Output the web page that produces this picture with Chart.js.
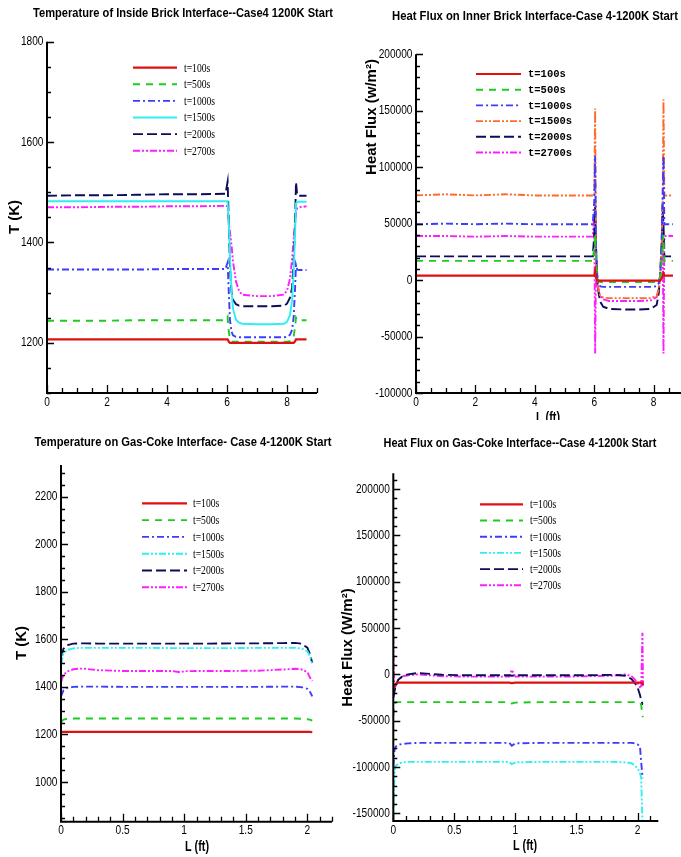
<!DOCTYPE html>
<html>
<head>
<meta charset="utf-8">
<script src="https://cdn.jsdelivr.net/npm/chart.js@4.4.1/dist/chart.umd.min.js"></script>
<style>
  body { margin: 0; background: #fff; width: 681px; height: 857px; position: relative; overflow: hidden; }
  canvas { position: absolute; }
</style>
</head>
<body>
<canvas id="c1" width="340" height="420" style="left:0;top:0"></canvas>
<canvas id="c2" width="341" height="420" style="left:340px;top:0"></canvas>
<canvas id="c3" width="340" height="437" style="left:0;top:420px"></canvas>
<canvas id="c4" width="341" height="437" style="left:340px;top:420px"></canvas>
<script>
const seriesLabels = ["t=100s", "t=500s", "t=1000s", "t=1500s", "t=2000s", "t=2700s"];

// Temperature of inside brick interface (K) vs L (ft)
const brickTempX = [0, 1, 2, 3, 4, 5, 5.95, 6.02, 6.06, 6.1, 6.15, 6.2, 6.3, 6.4, 6.5, 7.0, 7.5, 7.9, 8.0, 8.1, 8.17, 8.22, 8.27, 8.3, 8.34, 8.4, 8.65];
const brickTemp100 = [1207, 1207, 1207, 1207, 1207, 1207, 1207, 1207, 1202, 1200, 1200, 1200, 1200, 1200, 1200, 1200, 1200, 1200, 1200, 1200, 1200, 1200, 1203, 1207, 1207, 1207, 1207];
const brickTemp500 = [1244, 1244, 1244, 1245, 1245, 1245, 1245, 1252, 1222, 1208, 1203, 1202, 1202, 1202, 1202, 1202, 1202, 1202, 1202, 1203, 1205, 1212, 1232, 1250, 1245, 1245, 1245];
const brickTemp1000 = [1346, 1346, 1346, 1346, 1347, 1347, 1347, 1360, 1300, 1245, 1222, 1215, 1212, 1211, 1211, 1211, 1211, 1211, 1212, 1216, 1226, 1250, 1310, 1355, 1346, 1345, 1345];
const brickTemp1500 = [1482, 1482, 1482, 1482, 1482, 1482, 1482, 1482, 1440, 1370, 1305, 1268, 1246, 1240, 1238, 1237, 1237, 1238, 1242, 1255, 1285, 1340, 1420, 1478, 1481, 1481, 1481];
const brickTemp2000 = [1493, 1494, 1494, 1495, 1496, 1496, 1497, 1521, 1440, 1350, 1302, 1286, 1277, 1274, 1273, 1273, 1273, 1274, 1278, 1290, 1310, 1360, 1440, 1520, 1494, 1493, 1493];
const brickTemp2700 = [1470, 1470, 1471, 1471, 1472, 1472, 1473, 1472, 1440, 1420, 1395, 1362, 1322, 1304, 1296, 1293, 1293, 1296, 1304, 1328, 1368, 1405, 1440, 1462, 1468, 1470, 1472];

// Heat flux on inner brick interface (w/m2)
const brickFluxX = [0, 1, 2, 3, 4, 5, 5.95, 6.0, 6.03, 6.06, 6.1, 6.15, 6.2, 6.3, 6.5, 7.0, 7.5, 7.9, 8.1, 8.17, 8.22, 8.27, 8.3, 8.33, 8.36, 8.4, 8.65];
const brickFlux100 = [4000, 4000, 4000, 4000, 4000, 4000, 4000, 4000, 8000, 2000, 0, -500, -500, -500, -500, -500, -500, -500, -500, -500, -300, 1000, 4000, 6000, 4000, 4000, 4000];
const brickFlux500 = [17000, 17000, 17000, 17000, 17000, 17000, 17000, 30000, 40000, 15000, 2000, -1000, -1800, -1800, -1800, -1800, -1800, -1800, -1800, -1000, 2000, 15000, 30000, 40000, 17000, 17000, 17000];
const brickFlux1000 = [49500, 50000, 49500, 50000, 49500, 49500, 49500, 70000, 110000, 30000, 5000, -3000, -5500, -6000, -6000, -6000, -6000, -6000, -5500, -3000, 5000, 30000, 70000, 110000, 49500, 49500, 49500];
const brickFlux1500 = [75000, 76000, 75000, 76000, 75000, 75000, 75000, 75000, 152000, 20000, 0, -10000, -14000, -15500, -16000, -16000, -16000, -16000, -14000, -8000, 5000, 30000, 60000, 160000, 75000, 75000, 75000];
const brickFlux2000 = [21000, 21000, 21000, 21000, 21000, 21000, 21000, 40000, 65000, 30000, 0, -12000, -19000, -23500, -25500, -26000, -26000, -25500, -22000, -12000, 5000, 35000, 67000, 50000, 21000, 21000, 21000];
const brickFlux2700 = [39000, 39000, 38500, 39000, 38500, 38500, 38500, 60000, -65000, 10000, -2000, -10000, -14000, -17000, -18500, -18500, -18500, -18000, -15000, -8000, 3000, 20000, 55000, -65000, 39000, 39000, 39000];

// Temperature on gas-coke interface (K)
const cokeTempX = [0, 0.02, 0.05, 0.1, 0.15, 0.2, 0.3, 0.5, 0.7, 0.9, 0.97, 1.0, 1.2, 1.4, 1.6, 1.8, 1.9, 1.95, 2.0, 2.02, 2.04];
const cokeTemp100 = [1211, 1211, 1211, 1211, 1211, 1211, 1211, 1211, 1211, 1211, 1211, 1211, 1211, 1211, 1211, 1211, 1211, 1211, 1211, 1211, 1209];
const cokeTemp500 = [1252, 1262, 1266, 1267, 1267, 1267, 1267, 1267, 1267, 1267, 1267, 1267, 1267, 1267, 1267, 1267, 1267, 1266, 1264, 1262, 1258];
const cokeTemp1000 = [1360, 1385, 1396, 1400, 1401, 1401, 1401, 1400, 1400, 1400, 1400, 1400, 1400, 1400, 1400, 1401, 1401, 1399, 1392, 1380, 1360];
const cokeTemp1500 = [1495, 1540, 1555, 1562, 1564, 1564, 1564, 1564, 1564, 1563, 1563, 1563, 1563, 1563, 1564, 1564, 1564, 1562, 1550, 1530, 1495];
const cokeTemp2000 = [1525, 1560, 1575, 1582, 1583, 1583, 1582, 1582, 1582, 1582, 1582, 1582, 1582, 1583, 1583, 1584, 1585, 1582, 1565, 1540, 1500];
const cokeTemp2700 = [1420, 1450, 1465, 1474, 1477, 1476, 1470, 1467, 1467, 1467, 1461, 1466, 1467, 1467, 1468, 1473, 1476, 1474, 1462, 1440, 1425];

// Heat flux on gas-coke interface (W/m2)
const cokeFluxX = [0, 0.005, 0.01, 0.02, 0.04, 0.08, 0.12, 0.2, 0.4, 0.6, 0.8, 0.95, 0.97, 1.0, 1.2, 1.4, 1.6, 1.8, 1.9, 1.95, 1.98, 2.0, 2.02, 2.03, 2.04, 2.045];
const cokeFlux100 = [-15000, -14000, -12000, -10000, -9000, -9000, -9000, -9000, -9000, -9000, -9000, -9000, -9500, -9000, -9000, -9000, -9000, -9000, -9000, -9000, -9000, -9000, -9000, -9000, -9500, -12000];
const cokeFlux500 = [-45000, -35000, -31000, -30000, -30000, -30000, -30000, -30000, -30000, -30000, -30000, -30000, -31500, -30500, -30000, -30000, -30000, -30000, -30000, -30000, -30000, -30200, -30500, -33000, -45000, -46000];
const cokeFlux1000 = [-100000, -90000, -82000, -78000, -76000, -75000, -74500, -74000, -74000, -74000, -74000, -74000, -77000, -74500, -74000, -74000, -74000, -74000, -74000, -74000, -74500, -75500, -78000, -95000, -110000, -112000];
const cokeFlux1500 = [-158000, -130000, -105000, -99000, -96500, -95000, -94500, -94500, -94500, -94500, -94500, -94500, -97000, -95000, -94500, -94500, -94500, -94500, -95000, -96000, -98500, -101500, -106000, -112000, -158000, -158000];
const cokeFlux2000 = [-25000, -22000, -18000, -12000, -6000, -1500, 0, 1500, -500, -1000, -1000, -1000, -1500, -1000, -1000, -1000, -1000, -500, -1500, -5000, -9700, -14000, -22300, -28000, -32000, -32000];
const cokeFlux2700 = [40000, -5000, -16000, -12000, -6000, -2000, -1000, 0, -2000, -2500, -2500, -2500, 5000, -2500, -2500, -2500, -2000, -1500, 0, -2000, -6000, -9000, -14000, -15000, 45000, -12000];

// axis tick labels
const brickTempYTicks = [1200, 1400, 1600, 1800];
const brickFluxYTicks = [-100000, -50000, 0, 50000, 100000, 150000, 200000];
const cokeTempYTicks = [1000, 1200, 1400, 1600, 1800, 2000, 2200];
const cokeFluxYTicks = [-150000, -100000, -50000, 0, 50000, 100000, 150000, 200000];
const brickXTicks = [0, 2, 4, 6, 8];
const cokeXTicks = [0, 0.5, 1, 1.5, 2];

const RED = "#e01010", GREEN = "#1ecc1e", BLUE = "#3c3cff", CYAN = "#2ef0f0",
      NAVY = "#0c0c58", MAGENTA = "#ff1eff", ORANGE = "#ff6a28";
const SOLID = [], DASH = [7, 6], LONGDASH = [10, 4], DASHDOT = [7, 3, 2, 3], DASHDOTDOT = [7, 2, 2, 2, 2, 2];

function squeezeText(ctx, text, x, y, s, align) {
  ctx.save();
  ctx.translate(x, y);
  ctx.scale(s, 1);
  ctx.textAlign = align;
  ctx.fillText(text, 0, 0);
  ctx.restore();
}

function fmt(v) {
  return String(Math.round(v * 1000) / 1000);
}

const panelPlugin = {
  id: "panel",
  afterDraw(chart, args, o) {
    const ctx = chart.ctx;
    const xs = chart.scales.x, ys = chart.scales.y;
    const a = chart.chartArea;
    ctx.save();
    ctx.fillStyle = "#000";
    ctx.strokeStyle = "#000";

    // minor + major ticks, pointing into the plot
    ctx.lineWidth = 1.3;
    ctx.beginPath();
    let start = Math.ceil((ys.min - 1e-9) / o.yMinor) * o.yMinor;
    for (let i = 0; ; i++) {
      const v = start + i * o.yMinor;
      if (v > ys.max + 1e-9) break;
      const p = Math.round(ys.getPixelForValue(v)) + 0.5;
      const major = o.yTicks.some(t => Math.abs(t - v) < 1e-6);
      ctx.moveTo(a.left, p);
      ctx.lineTo(a.left + (major ? 7 : 4), p);
    }
    start = Math.ceil((xs.min - 1e-9) / o.xMinor) * o.xMinor;
    for (let i = 0; ; i++) {
      const v = start + i * o.xMinor;
      if (v > xs.max + 1e-9) break;
      const p = Math.round(xs.getPixelForValue(v)) + 0.5;
      const major = o.xTicks.some(t => Math.abs(t - v) < 1e-6);
      ctx.moveTo(p, a.bottom);
      ctx.lineTo(p, a.bottom - (major ? 8 : 5));
    }
    ctx.stroke();

    // axis lines
    ctx.lineWidth = 2;
    ctx.beginPath();
    ctx.moveTo(a.left, a.top);
    ctx.lineTo(a.left, a.bottom);
    ctx.lineTo(a.right, a.bottom);
    ctx.stroke();

    // tick labels
    ctx.font = "13px 'Liberation Sans', Arial, sans-serif";
    ctx.textBaseline = "middle";
    o.yTicks.forEach(v => {
      squeezeText(ctx, fmt(v), a.left - 3.5, ys.getPixelForValue(v), 0.78, "right");
    });
    o.xTicks.forEach(v => {
      squeezeText(ctx, fmt(v), xs.getPixelForValue(v), a.bottom + 9, 0.78, "center");
    });

    // title
    ctx.font = "bold 13px 'Liberation Sans', Arial, sans-serif";
    ctx.textAlign = "center";
    ctx.fillText(o.title[0], o.title[1], o.title[2], o.title[3]);

    // axis titles
    ctx.font = "bold 15px 'Liberation Sans', Arial, sans-serif";
    if (o.xTitle) {
      ctx.fillText(o.xTitle[0], o.xTitle[1], o.xTitle[2], o.xTitle[3]);
    }
    ctx.save();
    ctx.translate(o.yTitle[1], o.yTitle[2]);
    ctx.rotate(-Math.PI / 2);
    ctx.fillText(o.yTitle[0], 0, 0, o.yTitle[3]);
    ctx.restore();

    // legend
    const L = o.legend;
    chart.data.datasets.forEach((ds, i) => {
      const y = L.y0 + i * L.dy;
      ctx.save();
      ctx.strokeStyle = ds.borderColor;
      ctx.lineWidth = ds.borderWidth;
      ctx.setLineDash(ds.borderDash);
      ctx.beginPath();
      ctx.moveTo(L.x0, y);
      ctx.lineTo(L.x1, y);
      ctx.stroke();
      ctx.restore();
      ctx.font = L.font;
      ctx.fillStyle = "#000";
      ctx.textBaseline = "middle";
      squeezeText(ctx, ds.label, L.tx, y + 0.5, L.sq, "left");
    });
    ctx.restore();
  }
};

function makeDatasets(xs, ys, colors, dashes) {
  return ys.map((vals, i) => ({
    label: seriesLabels[i],
    data: xs.map((x, j) => ({ x: x, y: vals[j] })),
    borderColor: colors[i],
    borderDash: dashes[i],
    borderWidth: i === 0 ? 2.2 : 1.9,
    pointRadius: 0,
    showLine: true,
    tension: 0,
    fill: false
  }));
}

function makeChart(id, datasets, xRange, yRange, padding, panel) {
  return new Chart(document.getElementById(id), {
    type: "scatter",
    data: { datasets: datasets },
    options: {
      responsive: false,
      animation: false,
      devicePixelRatio: 1,
      layout: { padding: padding },
      scales: {
        x: { type: "linear", min: xRange[0], max: xRange[1], display: false },
        y: { type: "linear", min: yRange[0], max: yRange[1], display: false }
      },
      plugins: {
        legend: { display: false },
        tooltip: { enabled: false },
        panel: panel
      }
    },
    plugins: [panelPlugin]
  });
}

const serifLegend = "13px 'Liberation Serif', 'Times New Roman', serif";

makeChart("c1",
  makeDatasets(brickTempX,
    [brickTemp100, brickTemp500, brickTemp1000, brickTemp1500, brickTemp2000, brickTemp2700],
    [RED, GREEN, BLUE, CYAN, NAVY, MAGENTA],
    [SOLID, DASH, DASHDOT, SOLID, LONGDASH, DASHDOTDOT]),
  [0, 9], [1100, 1800],
  { left: 47, top: 41.7, right: 23, bottom: 27 },
  {
    title: ["Temperature of Inside Brick Interface--Case4 1200K Start", 183, 13, 300],
    yTitle: ["T (K)", 14.5, 217, 36],
    xTitle: null,
    yTicks: brickTempYTicks, yMinor: 50,
    xTicks: brickXTicks, xMinor: 0.5,
    legend: { x0: 133, x1: 177, tx: 184, y0: 67.7, dy: 16.6, font: serifLegend, sq: 0.74 }
  });

makeChart("c2",
  makeDatasets(brickFluxX,
    [brickFlux100, brickFlux500, brickFlux1000, brickFlux1500, brickFlux2000, brickFlux2700],
    [RED, GREEN, BLUE, ORANGE, NAVY, MAGENTA],
    [SOLID, DASH, DASHDOT, DASHDOTDOT, LONGDASH, DASHDOTDOT]),
  [0, 8.92], [-100000, 200000],
  { left: 76, top: 54.3, right: 0, bottom: 27 },
  {
    title: ["Heat Flux on Inner Brick Interface-Case 4-1200K Start", 195, 16, 286],
    yTitle: ["Heat Flux (w/m\u00B2)", 31.7, 117, 120],
    xTitle: ["L (ft)", 208, 418, 24],
    yTicks: brickFluxYTicks, yMinor: 10000,
    xTicks: brickXTicks, xMinor: 0.5,
    legend: { x0: 136, x1: 181, tx: 188, y0: 74, dy: 15.7, font: "bold 10.5px 'Liberation Mono', 'Courier New', monospace", sq: 1 }
  });

makeChart("c3",
  makeDatasets(cokeTempX,
    [cokeTemp100, cokeTemp500, cokeTemp1000, cokeTemp1500, cokeTemp2000, cokeTemp2700],
    [RED, GREEN, BLUE, CYAN, NAVY, MAGENTA],
    [SOLID, DASH, DASHDOT, DASHDOTDOT, LONGDASH, DASHDOTDOT]),
  [0, 2.2], [833, 2333],
  { left: 61, top: 45, right: 8, bottom: 35.3 },
  {
    title: ["Temperature on Gas-Coke Interface- Case 4-1200K Start", 183, 22, 297],
    yTitle: ["T (K)", 22, 223, 38],
    xTitle: ["L (ft)", 197, 427, 24],
    yTicks: cokeTempYTicks, yMinor: 50,
    xTicks: cokeXTicks, xMinor: 0.1,
    legend: { x0: 142, x1: 187, tx: 193, y0: 83.3, dy: 16.8, font: serifLegend, sq: 0.74 }
  });

makeChart("c4",
  makeDatasets(cokeFluxX,
    [cokeFlux100, cokeFlux500, cokeFlux1000, cokeFlux1500, cokeFlux2000, cokeFlux2700],
    [RED, GREEN, BLUE, CYAN, NAVY, MAGENTA],
    [SOLID, DASH, DASHDOT, DASHDOTDOT, LONGDASH, DASHDOTDOT]),
  [0, 2.17], [-158300, 217000],
  { left: 53.3, top: 53.3, right: 22.7, bottom: 36 },
  {
    title: ["Heat Flux on Gas-Coke Interface--Case 4-1200k Start", 180, 23, 273],
    yTitle: ["Heat Flux (W/m\u00B2)", 7.5, 227.5, 128],
    xTitle: ["L (ft)", 185, 426, 24],
    yTicks: cokeFluxYTicks, yMinor: 10000,
    xTicks: cokeXTicks, xMinor: 0.1,
    legend: { x0: 140, x1: 183, tx: 190, y0: 84.3, dy: 16.2, font: serifLegend, sq: 0.74 }
  });
</script>
</body>
</html>
